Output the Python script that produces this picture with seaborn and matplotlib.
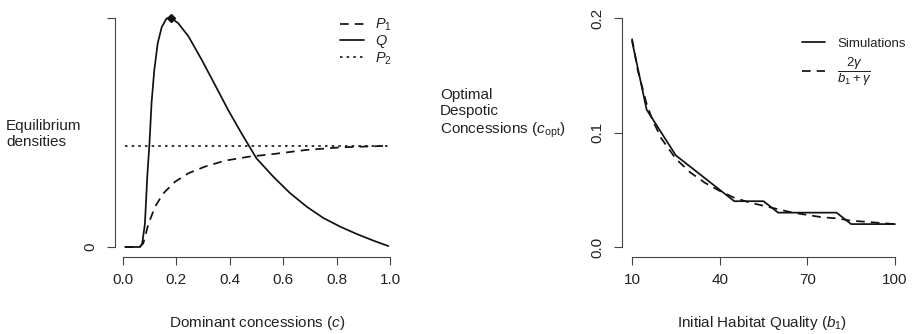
import numpy as np
import pandas as pd
import matplotlib
matplotlib.use("Agg")
import matplotlib.pyplot as plt
import seaborn as sns
from matplotlib.lines import Line2D

# ---------------- data ----------------
# Left panel: equilibrium densities vs dominant concessions c (normalised, peak of Q = 1)
c_vals = [0.008, 0.04, 0.064, 0.072, 0.082, 0.091, 0.099, 0.107, 0.117, 0.13, 0.145, 0.163,
          0.18, 0.207, 0.245, 0.295, 0.345, 0.394, 0.444, 0.50, 0.563, 0.625, 0.688, 0.75,
          0.813, 0.875, 0.9375, 0.994]
q_vals = [0.0, 0.0, 0.0, 0.016, 0.10, 0.31, 0.45, 0.63, 0.77, 0.89, 0.96, 0.998,
          1.0, 0.977, 0.92, 0.817, 0.707, 0.598, 0.496, 0.387, 0.307, 0.236, 0.176, 0.127,
          0.089, 0.057, 0.028, 0.004]
p1_c = [0.008, 0.04, 0.062, 0.076, 0.095, 0.12, 0.151, 0.195, 0.245, 0.307, 0.382, 0.469,
        0.563, 0.688, 0.813, 0.994]
p1_vals = [0.0, 0.0, 0.0, 0.016, 0.10, 0.176, 0.234, 0.285, 0.322, 0.351, 0.377, 0.394,
           0.406, 0.424, 0.435, 0.442]
p2_c = [0.008, 0.994]
p2_vals = [0.441, 0.441]
peak_c = [0.18]
peak_q = [1.0]

# Right panel: optimal despotic concessions vs initial habitat quality b1
b1_sim = [10, 15, 20, 25, 30, 35, 40, 45, 50, 55, 60, 65, 70, 75, 80, 85, 90, 95, 100]
c_sim = [0.18, 0.12, 0.10, 0.08, 0.07, 0.06, 0.05, 0.04, 0.04, 0.04, 0.03, 0.03, 0.03,
         0.03, 0.03, 0.02, 0.02, 0.02, 0.02]
b1_th = [10, 12, 15, 17, 20, 25, 30, 35, 40, 45, 50, 55, 60, 65, 70, 75, 80, 85, 90, 95, 100]
c_th = [0.182, 0.154, 0.125, 0.111, 0.095, 0.077, 0.065, 0.056, 0.049, 0.043, 0.039,
        0.036, 0.033, 0.030, 0.028, 0.026, 0.025, 0.023, 0.022, 0.021, 0.020]

left_xticks = [0.0, 0.2, 0.4, 0.6, 0.8, 1.0]
right_xticks = [10, 40, 70, 100]
right_yticks = [0.0, 0.1, 0.2]

# ---------------- style ----------------
sns.set_theme(style="white")
plt.rcParams["font.family"] = ["Liberation Sans", "DejaVu Sans"]
plt.rcParams["mathtext.fontset"] = "custom"
plt.rcParams["mathtext.rm"] = "Liberation Sans"
plt.rcParams["mathtext.it"] = "Liberation Sans:italic"
plt.rcParams["mathtext.bf"] = "Liberation Sans:bold"
FS = 11
AX_COL = "#444444"
LC = "#111111"
DASH = (0, (5, 3.5))
DOT = (0, (1.5, 2.5))

fig = plt.figure(figsize=(9.13, 3.34), dpi=100)
W, H = 913, 334


def px_axes(left, right, top, bottom):
    return fig.add_axes([left / W, (H - bottom) / H, (right - left) / W, (bottom - top) / H])


def style_axes(ax):
    for s in ["top", "right"]:
        ax.spines[s].set_visible(False)
    for s in ["left", "bottom"]:
        ax.spines[s].set_color(AX_COL)
        ax.spines[s].set_linewidth(0.8)
    ax.tick_params(axis="both", direction="out", length=5.5, width=0.8, color=AX_COL,
                   labelsize=FS, labelcolor="#222222", left=True, bottom=True)
    ax.tick_params(axis="x", pad=6)
    ax.tick_params(axis="y", pad=7)
    ax.set_facecolor("white")


# ---------------- left panel ----------------
ax1 = px_axes(115, 398, 10, 257)
xr = 390 - 123
ax1.set_xlim(-(123 - 115) / xr, 1 + (398 - 390) / xr)
yr = 247 - 18
ax1.set_ylim(-(257 - 247) / yr, 1 + 8 / yr)

dfq = pd.DataFrame({"c": c_vals, "v": q_vals})
dfp1 = pd.DataFrame({"c": p1_c, "v": p1_vals})
dfp2 = pd.DataFrame({"c": p2_c, "v": p2_vals})
sns.lineplot(data=dfp1, x="c", y="v", ax=ax1, color=LC, lw=1.25,
             linestyle=DASH, sort=False, estimator=None)
sns.lineplot(data=dfq, x="c", y="v", ax=ax1, color=LC, lw=1.25, sort=False, estimator=None)
sns.lineplot(data=dfp2, x="c", y="v", ax=ax1, color=LC, lw=1.2,
             linestyle=DOT, sort=False, estimator=None)
ax1.plot(peak_c, peak_q, marker="D", ms=4, color=LC, ls="none")

style_axes(ax1)
ax1.spines["left"].set_bounds(0, 1)
ax1.spines["bottom"].set_bounds(0, 1)
ax1.set_xticks(left_xticks)
ax1.set_xticklabels([f"{v:.1f}" for v in left_xticks])
ax1.set_yticks([0, 1])
ax1.set_yticklabels(["0", ""])
for lab in ax1.get_yticklabels():
    lab.set_rotation(90)
    lab.set_va("center")
ax1.set_xlabel("")
ax1.set_ylabel("")

h1 = [Line2D([], [], color=LC, lw=1.25, ls=DASH),
      Line2D([], [], color=LC, lw=1.25),
      Line2D([], [], color=LC, lw=1.2, ls=DOT)]
leg1 = ax1.legend(h1, [r"$P_1$", r"$Q$", r"$P_2$"], frameon=False, fontsize=FS * 0.95,
                  loc="upper left", bbox_to_anchor=((334 - 115) / 283, 1.0 - 1 / 247),
                  handlelength=1.7, handletextpad=0.7, labelspacing=0.0,
                  borderaxespad=0.0)
for t in leg1.get_texts():
    t.set_color("#222222")

# ---------------- right panel ----------------
ax2 = px_axes(622, 900, 10, 257)
xr2 = (895 - 632) / 90.0
ax2.set_xlim(10 - (632 - 622) / xr2, 100 + (900 - 895) / xr2)
yr2 = (247 - 18) / 0.2
ax2.set_ylim(-(257 - 247) / yr2, 0.2 + 8 / yr2)

dfs = pd.DataFrame({"b": b1_sim, "c": c_sim})
dft = pd.DataFrame({"b": b1_th, "c": c_th})
sns.lineplot(data=dfs, x="b", y="c", ax=ax2, color=LC, lw=1.25, sort=False, estimator=None)
sns.lineplot(data=dft, x="b", y="c", ax=ax2, color=LC, lw=1.25,
             linestyle=DASH, sort=False, estimator=None)

style_axes(ax2)
ax2.spines["left"].set_bounds(0, 0.2)
ax2.spines["bottom"].set_bounds(10, 100)
ax2.set_xticks(right_xticks)
ax2.set_xticklabels([str(v) for v in right_xticks])
ax2.set_yticks(right_yticks)
ax2.set_yticklabels([f"{v:.1f}" for v in right_yticks])
for lab in ax2.get_yticklabels():
    lab.set_rotation(90)
    lab.set_va("center")
ax2.set_xlabel("")
ax2.set_ylabel("")

h2 = [Line2D([], [], color=LC, lw=1.25),
      Line2D([], [], color=LC, lw=1.25, ls=DASH)]
leg2 = ax2.legend(h2, ["Simulations", r"$\dfrac{2\gamma}{b_1+\gamma}$"], frameon=False,
                  fontsize=9.5, loc="upper left",
                  bbox_to_anchor=((797 - 622) / 278, 0.91),
                  handlelength=1.75, handletextpad=0.9, labelspacing=0.5,
                  borderaxespad=0.0)
for t in leg2.get_texts():
    t.set_color("#222222")

# ---------------- axis titles as figure text ----------------
fig.text(6 / W, 1 - 134 / H, "Equilibrium\ndensities", ha="left", va="center",
         fontsize=FS, color="#222222", linespacing=1.2)
fig.text(440 / W, 1 - 114 / H, "Optimal\nDespotic\nConcessions ($c_{\\mathrm{opt}}$)",
         ha="left", va="center", fontsize=FS, color="#222222", linespacing=1.2)
fig.text(257 / W, 1 - 323 / H, "Dominant concessions ($c$)", ha="center", va="center",
         fontsize=FS, color="#222222")
fig.text(762 / W, 1 - 323 / H, "Initial Habitat Quality ($b_1$)", ha="center", va="center",
         fontsize=FS, color="#222222")

fig.savefig("out.png", dpi=100, facecolor="white")
